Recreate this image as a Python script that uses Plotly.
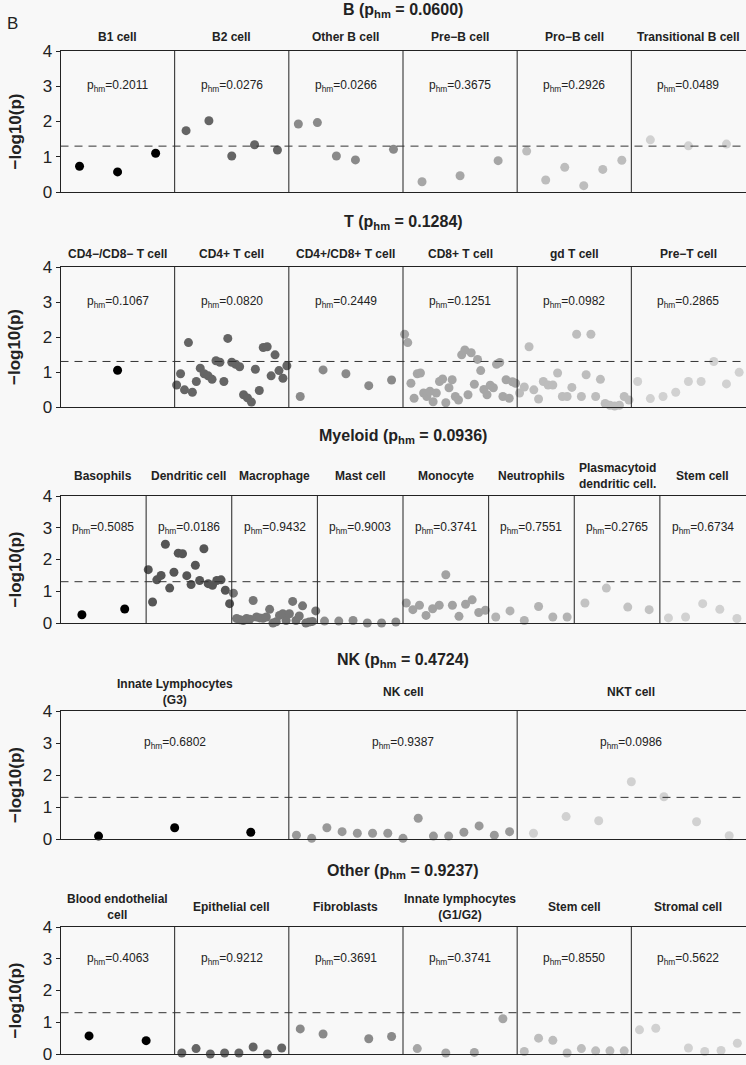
import numpy as np
import plotly.graph_objects as go

FONT = "Liberation Sans, Arial, sans-serif"
INK = "#222222"
BG = "#f8f8f8"

# ---------------- data ----------------
group_names = ["B", "T", "Myeloid", "NK", "Other"]
group_phm = ["0.0600", "0.1284", "0.0936", "0.4724", "0.9237"]

b_cells = ["B1 cell", "B2 cell", "Other B cell", "Pre\u2212B cell", "Pro\u2212B cell", "Transitional B cell"]
b_phm = ["0.2011", "0.0276", "0.0266", "0.3675", "0.2926", "0.0489"]
b_values = [
    [0.73, 0.57, 1.10],
    [1.74, 2.02, 1.02, 1.34, 1.19],
    [1.93, 1.97, 1.02, 0.91, None, 1.21],
    [0.29, 0.46, 0.89],
    [1.16, 0.34, 0.70, 0.18, 0.64, 0.90],
    [1.48, 1.31, 1.36],
]

t_cells = ["CD4\u2212/CD8\u2212 T cell", "CD4+ T cell", "CD4+/CD8+ T cell", "CD8+ T cell", "gd T cell", "Pre\u2212T cell"]
t_phm = ["0.1067", "0.0820", "0.2449", "0.1251", "0.0982", "0.2865"]
t_values = [
    [1.05],
    [0.63, 0.95, 0.49, 1.84, 0.42, 0.73, 1.11, 0.95, 0.89, 0.79, 1.32, 1.28, 0.73, 1.96, 1.28,
     1.22, 1.15, 0.35, 0.26, 0.14, 1.08, 0.47, 1.70, 1.72, 0.89, 1.49, 1.04, 0.82, 1.18],
    [0.30, 1.06, 0.95, 0.61, 0.77],
    [2.08, 1.84, 0.68, 0.25, 0.95, 0.97, 0.40, 0.30, 0.45, 0.15, 0.40, 0.73, 0.80, 0.12, 0.55,
     0.78, 0.30, 0.20, 1.49, 1.63, 0.35, 1.55, 0.65, 1.36, 1.04, 0.50, 0.35, 0.62, 0.55, 1.22,
     1.27, 0.30, 0.78, 0.25, 0.72, 0.68],
    [0.40, 0.57, 1.72, 0.49, 0.23, 0.73, 0.63, 0.63, 0.97, 0.30, 0.30, 0.56, 2.08, 0.30, 0.92,
     2.08, 0.30, 0.79, 0.10, 0.05, 0.03, 0.05, 0.30, 0.20],
    [0.73, 0.24, 0.30, 0.42, 0.73, 0.73, 1.30, 0.66, 0.99],
]

my_cells = ["Basophils", "Dendritic cell", "Macrophage", "Mast cell", "Monocyte", "Neutrophils",
            "Plasmacytoid<br>dendritic cell.", "Stem cell"]
my_phm = ["0.5085", "0.0186", "0.9432", "0.9003", "0.3741", "0.7551", "0.2765", "0.6734"]
my_values = [
    [0.26, 0.44],
    [1.68, 0.66, 1.36, 1.50, 2.48, 1.10, 1.60, 2.20, 2.18, 1.49, 1.21, 1.82, 1.34, 2.34, 1.24,
     1.19, 1.34, 1.36, 1.03, 0.61],
    [0.94, 0.14, 0.10, 0.08, 0.14, 0.12, 0.71, 0.19, 0.16, 0.15, 0.19, 0.43, 0.00, 0.04, 0.24,
     0.29, 0.08, 0.29, 0.68, 0.08, 0.22, 0.54, 0.00, 0.03, 0.05, 0.38],
    [0.06, 0.06, 0.08, 0.00, 0.00, 0.03],
    [0.63, 0.42, 0.56, 0.24, 0.45, 0.56, 1.52, 0.56, 0.21, 0.59, 0.73, 0.33, 0.40],
    [0.19, 0.38, 0.08, 0.52, 0.19, 0.19],
    [0.63, 1.10, 0.50, 0.42],
    [0.16, 0.19, 0.61, 0.43, 0.14],
]

nk_cells = ["Innate Lymphocytes<br>(G3)", "NK cell", "NKT cell"]
nk_phm = ["0.6802", "0.9387", "0.0986"]
nk_values = [
    [0.09, 0.35, 0.21],
    [0.12, 0.02, 0.35, 0.23, 0.18, 0.18, 0.18, 0.02, 0.65, 0.09, 0.09, 0.21, 0.41, 0.12, 0.23],
    [0.18, 0.70, 0.57, 1.79, 1.32, 0.54, 0.10],
]

ot_cells = ["Blood endothelial<br>cell", "Epithelial cell", "Fibroblasts", "Innate lymphocytes<br>(G1/G2)",
            "Stem cell", "Stromal cell"]
ot_phm = ["0.4063", "0.9212", "0.3691", "0.3741", "0.8550", "0.5622"]
ot_values = [
    [0.57, 0.42],
    [0.03, 0.17, 0.00, 0.03, 0.03, 0.22, 0.00, 0.19],
    [0.79, 0.63, None, 0.48, 0.55],
    [0.17, 0.03, 0.05, 1.11],
    [0.08, 0.50, 0.43, 0.03, 0.17, 0.10, 0.10, 0.10],
    [0.76, 0.81, None, 0.19, 0.08, 0.11, 0.34],
]

threshold = -np.log10(0.05)

# ---------------- layout helpers ----------------
W, H = 746, 1065


def fx(px):
    return px / W


def fy(py):
    return 1 - py / H


rows = [
    (b_cells, b_phm, b_values),
    (t_cells, t_phm, t_values),
    (my_cells, my_phm, my_values),
    (nk_cells, nk_phm, nk_values),
    (ot_cells, ot_phm, ot_values),
]
row_px = [(51, 192), (267, 407), (496, 623), (711, 839), (927, 1054)]
title_px = [11, 223, 437, 660, 871]
panel_title_off = [14, 13, 20, 19, 20]
X0, X1 = 60.5, 745.5


def grays(n, start=0.0, end=0.82, gamma=2.2):
    v = np.linspace(start ** gamma, end ** gamma, n) ** (1 / gamma)
    return ["rgb({0},{0},{0})".format(int(round(c * 255))) for c in v]


fig = go.Figure()
shapes, annotations = [], []
layout_axes = {}

for r, (cells, phms, vals) in enumerate(rows):
    n = len(cells)
    top, bot = row_px[r]
    idx = "" if r == 0 else str(r + 1)
    xa, ya = "x" + idx, "y" + idx
    cols = grays(n)
    for k in range(n):
        v = vals[k]
        m = len(v)
        xs = [k + (i + 0.5) / m for i in range(m)]
        fig.add_trace(go.Scatter(
            x=xs, y=v, mode="markers", xaxis=xa, yaxis=ya,
            marker=dict(size=9, color=cols[k], line=dict(width=0)),
            cliponaxis=False, showlegend=False, hoverinfo="skip"))
        annotations.append(dict(
            x=k + 0.5, xref=xa, y=1, yref=ya + " domain", yshift=panel_title_off[r],
            yanchor="middle", xanchor="center", showarrow=False,
            text=cells[k], font=dict(family=FONT, size=12, color=INK, weight="bold")))
        annotations.append(dict(
            x=k + 0.5, xref=xa, y=3, yref=ya, showarrow=False,
            xanchor="center", yanchor="middle",
            text="p<sub>hm</sub>=" + phms[k], font=dict(family=FONT, size=12, color=INK)))
        if k > 0:
            shapes.append(dict(type="line", xref=xa, yref=ya, x0=k, x1=k, y0=0, y1=4,
                               line=dict(color=INK, width=1)))
    shapes.append(dict(type="line", xref=xa, yref=ya, x0=0, x1=n, y0=threshold, y1=threshold,
                       line=dict(color="#333333", width=1, dash="8px,6px")))
    annotations.append(dict(
        x=n / 2, xref=xa, y=fy(title_px[r]), yref="paper", showarrow=False,
        xanchor="center", yanchor="middle",
        text=group_names[r] + " (p<sub>hm</sub> = " + group_phm[r] + ")",
        font=dict(family=FONT, size=16, color=INK, weight="bold")))
    annotations.append(dict(
        x=fx(15), xref="paper", y=fy((top + bot) / 2), yref="paper", yshift=-10,
        showarrow=False, textangle=-90, xanchor="center", yanchor="middle",
        text="\u2212log10(p)", font=dict(family=FONT, size=17, color=INK, weight="bold")))

    layout_axes["xaxis" + idx] = dict(
        domain=[fx(X0), fx(X1)], range=[0, n], anchor=ya, automargin=False,
        showline=True, mirror=True, linecolor=INK, linewidth=1,
        showticklabels=False, ticks="", showgrid=False, zeroline=False, fixedrange=True)
    layout_axes["yaxis" + idx] = dict(
        domain=[fy(bot), fy(top)], range=[0, 4], anchor=xa, automargin=False,
        tickvals=[0, 1, 2, 3, 4], ticks="outside", ticklen=4, tickcolor=INK, tickwidth=1,
        showline=True, mirror=True, linecolor=INK, linewidth=1,
        tickfont=dict(family=FONT, size=17, color=INK),
        showgrid=False, zeroline=False, fixedrange=True)

annotations.append(dict(
    x=fx(12), xref="paper", y=fy(24), yref="paper", showarrow=False,
    xanchor="center", yanchor="middle", text="B",
    font=dict(family=FONT, size=17, color=INK)))

fig.update_layout(
    width=W, height=H, margin=dict(l=0, r=0, t=0, b=0, pad=0, autoexpand=False),
    paper_bgcolor=BG, plot_bgcolor=BG,
    shapes=shapes, annotations=annotations, showlegend=False,
    font=dict(family=FONT, color=INK),
    **layout_axes)

fig.write_html(
    "out.html",
    config={"displayModeBar": False},
    post_script="document.body.style.margin='0';document.body.style.padding='0';"
                "document.body.style.overflow='hidden';document.body.style.background='" + BG + "';")
